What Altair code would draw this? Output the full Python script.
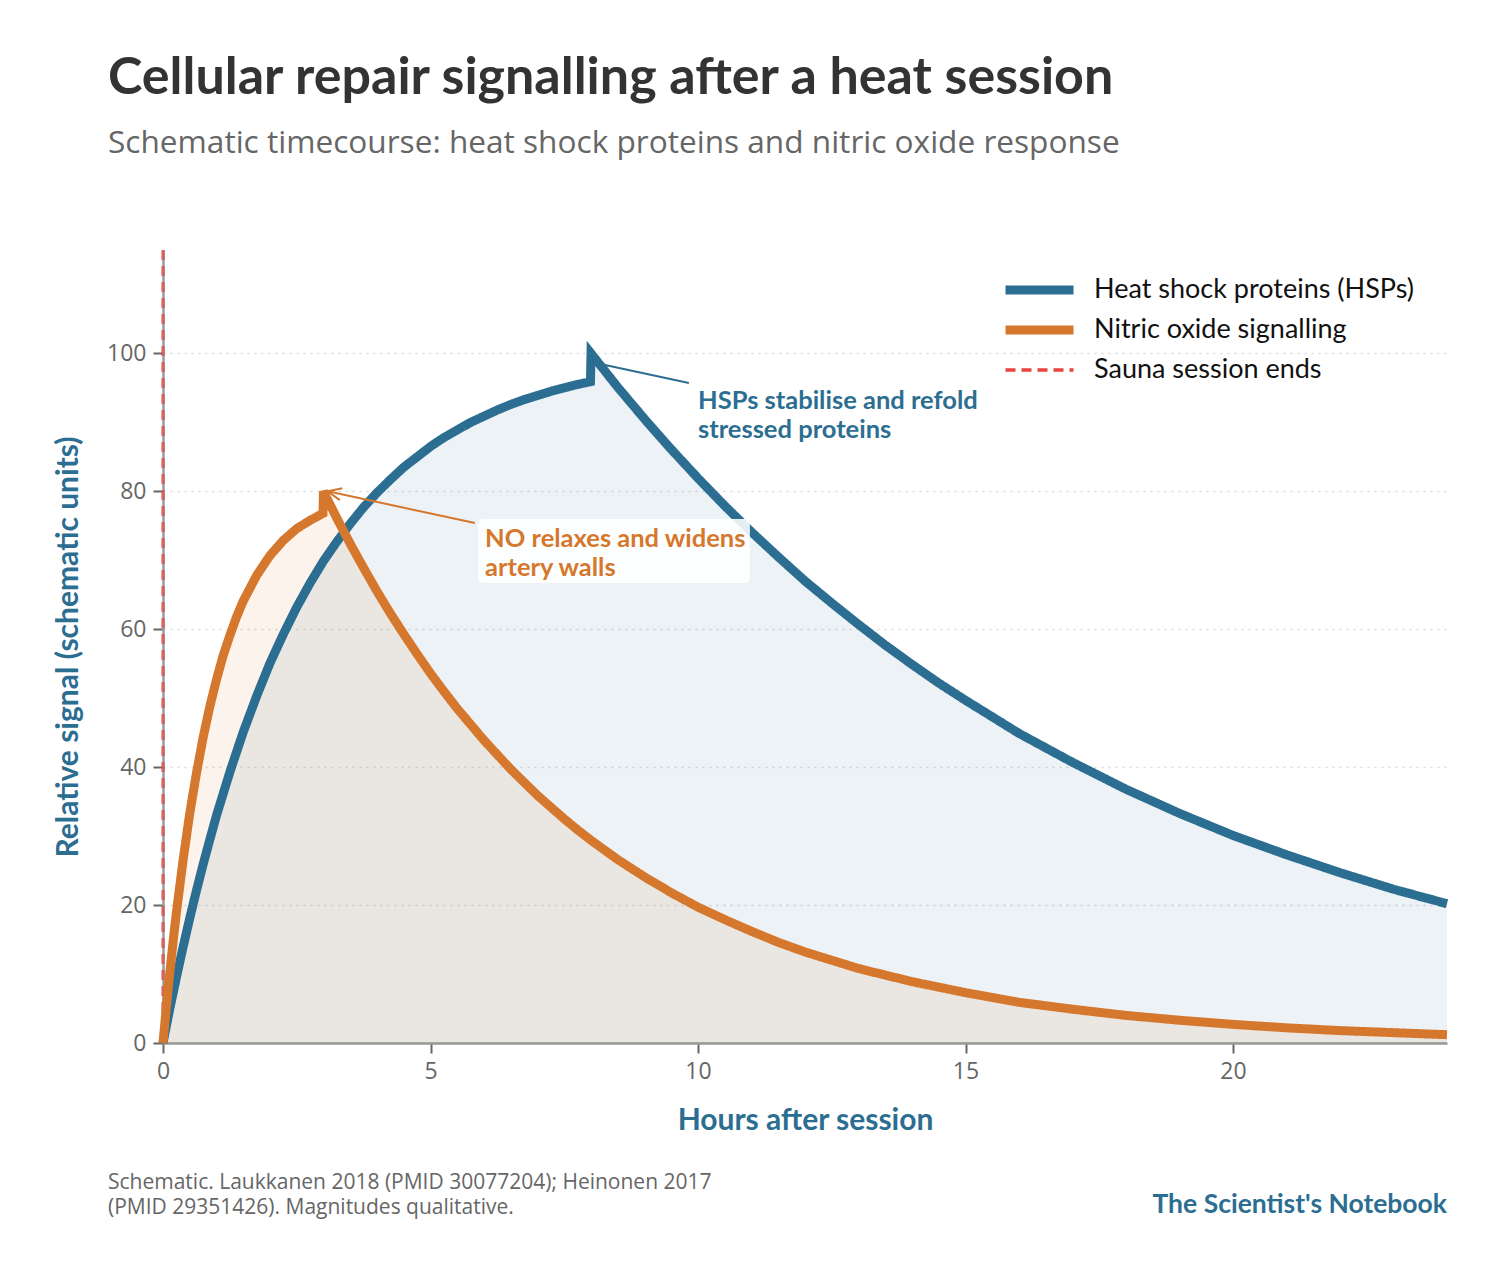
import altair as alt
import pandas as pd

# ---------------- data ----------------
hours_hsp = [0, 0.125, 0.25, 0.375, 0.5, 0.625, 0.75, 0.875, 1, 1.25, 1.5, 1.75, 2, 2.25, 2.5,
             2.75, 3, 3.25, 3.5, 3.75, 4, 4.25, 4.5, 4.75, 5, 5.25, 5.5, 5.75, 6, 6.25, 6.5,
             6.75, 7, 7.25, 7.5, 7.75, 7.99, 8, 8.5, 9, 9.5, 10, 10.5, 11, 11.5, 12, 12.5, 13,
             13.5, 14, 14.5, 15, 16, 17, 18, 19, 20, 21, 22, 23, 24]
hsp_values = [0, 4.9, 9.5, 13.9, 18.1, 22.1, 25.9, 29.5, 33.0, 39.3, 45.1, 50.3, 55.1, 59.3, 63.2,
              66.7, 69.9, 72.7, 75.3, 77.7, 79.8, 81.7, 83.5, 85.0, 86.5, 87.8, 88.9, 90.0, 90.9,
              91.8, 92.6, 93.3, 93.9, 94.5, 95.0, 95.5, 95.9, 100, 95.1, 90.5, 86.1, 81.9, 77.9,
              74.1, 70.5, 67.0, 63.8, 60.7, 57.7, 54.9, 52.2, 49.7, 44.9, 40.7, 36.8, 33.3, 30.1,
              27.3, 24.7, 22.3, 20.2]

hours_no = [0, 0.05, 0.1, 0.15, 0.2, 0.25, 0.375, 0.5, 0.625, 0.75, 0.875, 1, 1.125, 1.25, 1.375,
            1.5, 1.75, 2, 2.25, 2.5, 2.75, 2.99, 3, 3.25, 3.5, 3.75, 4, 4.25, 4.5, 4.75, 5, 5.25,
            5.5, 5.75, 6, 6.25, 6.5, 6.75, 7, 7.25, 7.5, 7.75, 8, 8.5, 9, 9.5, 10, 10.5, 11,
            11.5, 12, 13, 14, 15, 16, 17, 18, 19, 20, 21, 22, 23, 24]
no_values = [0, 4.2, 8.2, 11.9, 15.5, 18.9, 26.5, 33.3, 39.1, 44.3, 48.8, 52.7, 56.2, 59.1, 61.8,
             64.1, 67.8, 70.7, 72.9, 74.6, 75.8, 76.8, 80, 76.1, 72.4, 68.9, 65.5, 62.3, 59.3,
             56.4, 53.6, 51.0, 48.5, 46.2, 43.9, 41.8, 39.7, 37.8, 35.9, 34.2, 32.5, 30.9, 29.4,
             26.6, 24.1, 21.8, 19.7, 17.9, 16.2, 14.6, 13.2, 10.8, 8.9, 7.3, 5.9, 4.9, 4.0, 3.3,
             2.7, 2.2, 1.8, 1.5, 1.2]

series_names = ["Heat shock proteins (HSPs)", "Nitric oxide signalling", "Sauna session ends"]
series_colors = ["#2c6e92", "#d5772d", "#e8413f"]
series_widths = [9, 9, 3.5]
session_end_hour = [0]

x_ticks = [0, 5, 10, 15, 20]
y_ticks = [0, 20, 40, 60, 80, 100]

# annotations (data coordinates)
hsp_note = "HSPs stabilise and refold\nstressed proteins"
hsp_note_pos = [10.0, 91.9]
hsp_arrow = [8.22, 98.4, 9.83, 95.7]
no_note = "NO relaxes and widens\nartery walls"
no_note_pos = [6.02, 72.0]
no_arrow = [5.83, 75.4, 3.08, 80.0]
no_box = [5.89, 10.97, 66.7, 76.0]

title_text = "Cellular repair signalling after a heat session"
subtitle_text = "Schematic timecourse: heat shock proteins and nitric oxide response"
footer_text = "Schematic. Laukkanen 2018 (PMID 30077204); Heinonen 2017\n(PMID 29351426). Magnitudes qualitative."
credit_text = "The Scientist's Notebook"

BLUE, ORANGE = series_colors[0], series_colors[1]
W, H = 1284, 793

# ---------------- tables ----------------
hsp_df = pd.DataFrame({"hours": hours_hsp, "signal": hsp_values, "series": series_names[0]})
no_df = pd.DataFrame({"hours": hours_no, "signal": no_values, "series": series_names[1]})
rule_df = pd.DataFrame({"hours": session_end_hour, "series": [series_names[2]]})
one = pd.DataFrame({"a": [0]})

xscale = alt.Scale(domain=[0, 24], nice=False, zero=False)
yscale = alt.Scale(domain=[0, 115], nice=False)
color_scale = alt.Scale(domain=series_names, range=series_colors)
dash_scale = alt.Scale(domain=series_names, range=[[1, 0], [1, 0], [10, 6]])
width_scale = alt.Scale(type="ordinal", domain=series_names, range=series_widths)

legend = alt.Legend(
    title=None, orient="none", legendX=838, legendY=20, symbolType="stroke",
    symbolSize=4624, labelFontSize=27, labelFont="Lato", clipHeight=40,
    labelColor="#111111", labelOffset=16, rowPadding=0, padding=0, labelLimit=400,
)


def series_enc():
    return dict(
        color=alt.Color("series:N", scale=color_scale, legend=legend),
        strokeDash=alt.StrokeDash("series:N", scale=dash_scale, legend=legend),
        strokeWidth=alt.StrokeWidth("series:N", scale=width_scale, legend=legend),
    )


x_enc = alt.X("hours:Q", scale=xscale,
              axis=alt.Axis(title="Hours after session", values=x_ticks, grid=False,
                            labelFlush=False))
y_enc = alt.Y("signal:Q", scale=yscale,
              axis=alt.Axis(title="Relative signal (schematic units)", values=y_ticks, grid=True,
                            labelFlush=False))

area_hsp = alt.Chart(hsp_df).mark_area(color=BLUE, opacity=0.085).encode(x=x_enc, y=y_enc)
area_no = alt.Chart(no_df).mark_area(color=ORANGE, opacity=0.09).encode(x="hours:Q", y="signal:Q")

rule = alt.Chart(rule_df).mark_rule(strokeOpacity=0.65).encode(x="hours:Q", **series_enc())

line_hsp = alt.Chart(hsp_df).mark_line(strokeJoin="miter").encode(
    x="hours:Q", y="signal:Q", **series_enc())
line_no = alt.Chart(no_df).mark_line(strokeJoin="miter").encode(
    x="hours:Q", y="signal:Q", **series_enc())

arrows_df = pd.DataFrame({
    "hours": [hsp_arrow[0], no_arrow[0]], "signal": [hsp_arrow[1], no_arrow[1]],
    "hours2": [hsp_arrow[2], no_arrow[2]], "signal2": [hsp_arrow[3], no_arrow[3]],
    "c": [BLUE, ORANGE],
})
arrows = alt.Chart(arrows_df).mark_rule(strokeWidth=2).encode(
    x="hours:Q", y="signal:Q", x2="hours2:Q", y2="signal2:Q",
    color=alt.Color("c:N", scale=None, legend=None),
)
head_df = pd.DataFrame({"hours": [no_arrow[2]], "signal": [no_arrow[3]]})
head = alt.Chart(head_df).mark_point(
    shape="M-1,-0.45L0,0L-1,0.45", size=740, angle=192, filled=False,
    stroke=ORANGE, strokeWidth=2, opacity=1,
).encode(x="hours:Q", y="signal:Q")

box_df = pd.DataFrame({"hours": [no_box[0]], "hours2": [no_box[1]],
                       "signal": [no_box[2]], "signal2": [no_box[3]]})
box = alt.Chart(box_df).mark_rect(color="white", opacity=0.88, cornerRadius=5).encode(
    x="hours:Q", x2="hours2:Q", y="signal:Q", y2="signal2:Q")

notes_df = pd.DataFrame({
    "hours": [hsp_note_pos[0], no_note_pos[0]], "signal": [hsp_note_pos[1], no_note_pos[1]],
    "txt": [hsp_note, no_note], "c": [BLUE, ORANGE],
})
notes = alt.Chart(notes_df).mark_text(
    align="left", baseline="alphabetic", fontSize=25.5, fontWeight="bold", font="Lato",
    lineBreak="\n", lineHeight=29,
).encode(x="hours:Q", y="signal:Q", text="txt:N",
         color=alt.Color("c:N", scale=None, legend=None))

footer = alt.Chart(one).mark_text(
    text=footer_text, align="left", baseline="alphabetic", fontSize=21, font="Open Sans",
    color="#666666", lineBreak="\n", lineHeight=25,
).encode(x=alt.value(-55), y=alt.value(939))
credit = alt.Chart(one).mark_text(
    text=credit_text, align="right", baseline="alphabetic", fontSize=26.5, font="Lato",
    fontWeight="bold", color=BLUE,
).encode(x=alt.value(W), y=alt.value(963))

chart = alt.layer(
    area_hsp, area_no, rule, line_hsp, line_no, arrows, head, box, notes, footer, credit
).properties(
    width=W, height=H,
    padding={"left": 155, "top": 242, "right": 46, "bottom": 230},
    autosize=alt.AutoSizeParams(type="none"),
    title=alt.TitleParams(
        text=title_text, subtitle=subtitle_text, anchor="start", frame="group", dx=-55,
        offset=88, fontSize=52, font="Lato", fontWeight="bold", color="#333333",
        subtitleFontSize=31.6, subtitleFont="Open Sans", subtitleColor="#666666",
        subtitlePadding=23,
    ),
).configure_view(stroke=None).configure_axis(
    domainColor="#999999", domainWidth=2.5, tickColor="#666666", tickWidth=2, tickSize=10,
    labelColor="#666666", labelFontSize=23, labelFont="Open Sans", labelPadding=7,
    titleColor=BLUE, titleFont="Lato", titleFontWeight="bold", titleFontSize=30,
    gridColor="#d9d9d9", gridDash=[2, 5], gridWidth=1.5,
).configure_axisX(titlePadding=22).configure_axisY(titlePadding=23)

chart.save("out.html", embed_options={"renderer": "svg", "actions": False})
